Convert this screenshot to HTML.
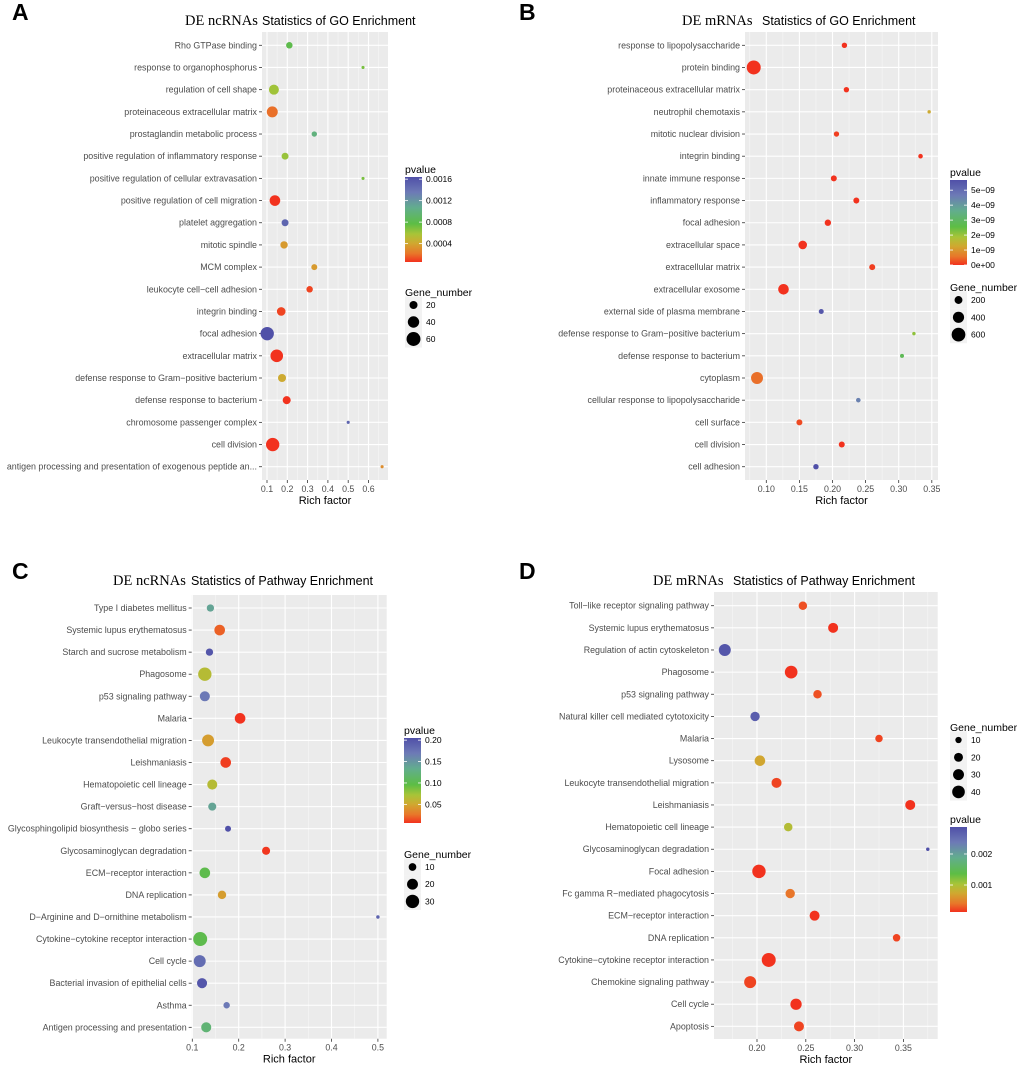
<!DOCTYPE html>
<html><head><meta charset="utf-8"><title>Enrichment bubble charts</title>
<style>
html,body{margin:0;padding:0;background:#fff;}
svg{display:block;}
.lab{font-family:"Liberation Sans",sans-serif;font-size:8.9px;fill:#4d4d4d;}
.tick{font-family:"Liberation Sans",sans-serif;font-size:8.8px;fill:#4d4d4d;}
.axt{font-family:"Liberation Sans",sans-serif;font-size:11px;fill:#000;}
.lgt{font-family:"Liberation Sans",sans-serif;font-size:10.5px;fill:#000;}
.lgl{font-family:"Liberation Sans",sans-serif;font-size:8.5px;fill:#000;}
.ttl{font-family:"Liberation Sans",sans-serif;font-size:12.5px;fill:#000;}
.ttls{font-family:"Liberation Serif",serif;font-size:14.5px;fill:#000;}
.let{font-family:"Liberation Sans",sans-serif;font-size:23px;font-weight:bold;fill:#000;}
</style></head>
<body>
<svg id="fig" width="1020" height="1066" viewBox="0 0 1020 1066" xmlns="http://www.w3.org/2000/svg">
<defs>
<linearGradient id="pgrad" x1="0" y1="1" x2="0" y2="0">
<stop offset="0" stop-color="#f2321e"/>
<stop offset="0.1" stop-color="#e8772a"/>
<stop offset="0.22" stop-color="#d0a830"/>
<stop offset="0.33" stop-color="#a8c438"/>
<stop offset="0.45" stop-color="#5dbd45"/>
<stop offset="0.64" stop-color="#62ad8e"/>
<stop offset="0.82" stop-color="#6d7ab6"/>
<stop offset="1" stop-color="#5050a8"/>
</linearGradient>
</defs>
</svg>
<script>
// ---------- Panel A data ----------
const aTerms=["Rho GTPase binding","response to organophosphorus","regulation of cell shape","proteinaceous extracellular matrix","prostaglandin metabolic process","positive regulation of inflammatory response","positive regulation of cellular extravasation","positive regulation of cell migration","platelet aggregation","mitotic spindle","MCM complex","leukocyte cell\u2212cell adhesion","integrin binding","focal adhesion","extracellular matrix","defense response to Gram\u2212positive bacterium","defense response to bacterium","chromosome passenger complex","cell division","antigen processing and presentation of exogenous peptide an..."];
const aRich=[0.21,0.573,0.134,0.126,0.333,0.189,0.573,0.139,0.189,0.184,0.333,0.31,0.17,0.101,0.148,0.174,0.197,0.5,0.128,0.667];
const aGenes=[13,3,31,37,9,15,3,35,15,17,11,13,23,55,49,20,20,3,55,3];
const aPvals=[0.0008,0.0007,0.0006,0.0002,0.001,0.00062,0.0007,0.00005,0.0015,0.00035,0.00035,0.0001,0.0001,0.00163,0.00001,0.00042,0.00003,0.0015,0.00001,0.0003];
const aTicks=[0.1,0.2,0.3,0.4,0.5,0.6];
const aTickLabels=["0.1","0.2","0.3","0.4","0.5","0.6"];
const aColorTicks=[0.0016,0.0012,0.0008,0.0004];
const aColorLabels=["0.0016","0.0012","0.0008","0.0004"];
const aSizeLegend=[20,40,60];
// ---------- Panel B data ----------
const bTerms=["response to lipopolysaccharide","protein binding","proteinaceous extracellular matrix","neutrophil chemotaxis","mitotic nuclear division","integrin binding","innate immune response","inflammatory response","focal adhesion","extracellular space","extracellular matrix","extracellular exosome","external side of plasma membrane","defense response to Gram\u2212positive bacterium","defense response to bacterium","cytoplasm","cellular response to lipopolysaccharide","cell surface","cell division","cell adhesion"];
const bRich=[0.218,0.081,0.221,0.346,0.206,0.333,0.202,0.236,0.193,0.155,0.26,0.126,0.183,0.323,0.305,0.086,0.239,0.15,0.214,0.175];
const bGenes=[93,625,93,37,93,67,115,115,130,236,115,358,80,37,51,460,67,115,115,93];
const bPvals=[0,0,0,1.3e-9,1e-10,0,0,0,0,0,1e-10,0,5.5e-9,2.1e-9,2.8e-9,5e-10,4.5e-9,2e-10,0,5.7e-9];
const bTicks=[0.10,0.15,0.20,0.25,0.30,0.35];
const bTickLabels=["0.10","0.15","0.20","0.25","0.30","0.35"];
const bColorTicks=[5e-9,4e-9,3e-9,2e-9,1e-9,0];
const bColorLabels=["5e\u221209","4e\u221209","3e\u221209","2e\u221209","1e\u221209","0e+00"];
const bSizeLegend=[200,400,600];
// ---------- Panel C data ----------
const cTerms=["Type I diabetes mellitus","Systemic lupus erythematosus","Starch and sucrose metabolism","Phagosome","p53 signaling pathway","Malaria","Leukocyte transendothelial migration","Leishmaniasis","Hematopoietic cell lineage","Graft\u2212versus\u2212host disease","Glycosphingolipid biosynthesis \u2212 globo series","Glycosaminoglycan degradation","ECM\u2212receptor interaction","DNA replication","D\u2212Arginine and D\u2212ornithine metabolism","Cytokine\u2212cytokine receptor interaction","Cell cycle","Bacterial invasion of epithelial cells","Asthma","Antigen processing and presentation"];
const cRich=[0.139,0.159,0.137,0.127,0.127,0.203,0.134,0.172,0.143,0.143,0.177,0.259,0.127,0.164,0.5,0.117,0.116,0.121,0.174,0.13];
const cGenes=[9,19,9,30,17,19,24,19,17,11,6,11,19,12,2,33,24,17,7,17];
const cPvals=[0.14,0.02,0.2,0.065,0.17,0.006,0.045,0.01,0.065,0.14,0.205,0.008,0.1,0.045,0.19,0.1,0.18,0.2,0.17,0.12];
const cTicks=[0.1,0.2,0.3,0.4,0.5];
const cTickLabels=["0.1","0.2","0.3","0.4","0.5"];
const cColorTicks=[0.2,0.15,0.1,0.05];
const cColorLabels=["0.20","0.15","0.10","0.05"];
const cSizeLegend=[10,20,30];
// ---------- Panel D data ----------
const dTerms=["Toll\u2212like receptor signaling pathway","Systemic lupus erythematosus","Regulation of actin cytoskeleton","Phagosome","p53 signaling pathway","Natural killer cell mediated cytotoxicity","Malaria","Lysosome","Leukocyte transendothelial migration","Leishmaniasis","Hematopoietic cell lineage","Glycosaminoglycan degradation","Focal adhesion","Fc gamma R\u2212mediated phagocytosis","ECM\u2212receptor interaction","DNA replication","Cytokine\u2212cytokine receptor interaction","Chemokine signaling pathway","Cell cycle","Apoptosis"];
const dRich=[0.247,0.278,0.167,0.235,0.262,0.198,0.325,0.203,0.22,0.357,0.232,0.375,0.202,0.234,0.259,0.343,0.212,0.193,0.24,0.243];
const dGenes=[18,25,36,40,18,22,14,28,25,25,18,3,45,22,25,14,49,36,32,25];
const dPvals=[0.00025,0.00005,0.0028,0.00005,0.00025,0.0027,0.0002,0.00072,0.0002,0.00005,0.00095,0.0029,0.00003,0.0004,0.0001,0.0002,0.00003,0.0002,0.00005,0.0002];
const dTicks=[0.20,0.25,0.30,0.35];
const dTickLabels=["0.20","0.25","0.30","0.35"];
const dColorTicks=[0.002,0.001];
const dColorLabels=["0.002","0.001"];
const dSizeLegend=[10,20,30,40];

const NS="http://www.w3.org/2000/svg";
const svg=document.getElementById('fig');
const stops=[[0,[242,50,30]],[0.1,[232,119,42]],[0.22,[208,168,48]],[0.33,[168,196,56]],[0.45,[93,189,69]],[0.64,[98,173,142]],[0.82,[109,122,182]],[1,[80,80,168]]];
function colorAt(t){t=Math.max(0,Math.min(1,t));for(let i=1;i<stops.length;i++){if(t<=stops[i][0]){const a=stops[i-1],b=stops[i];const f=(t-a[0])/(b[0]-a[0]);const c=a[1].map((v,k)=>Math.round(v+(b[1][k]-v)*f));return 'rgb('+c.join(',')+')';}}return 'rgb(80,80,168)';}
function mk(tag,attrs,parent){const e=document.createElementNS(NS,tag);for(const k in attrs)e.setAttribute(k,attrs[k]);(parent||svg).appendChild(e);return e;}

function panel(P,terms,rich,genes,pvals,ticks,tickLabels,cTicksArr,cLabels,sizeLeg){
  const g=mk('g',{});
  
  
  const xs=v=>P.x0+(v-P.v0)*P.k;
  const ys=i=>P.ry0+i*P.dy;
  const rs=n=>P.c*Math.sqrt(n);
  const cs=p=>colorAt((p-P.pmin)/(P.pmax-P.pmin));
  const cy=p=>P.cb1-(p-P.pmin)/(P.pmax-P.pmin)*(P.cb1-P.cb0);
  const L=mk('text',{x:P.letX,y:P.letY,class:'let'},g);L.textContent=P.letter;
  
  const t1=mk('text',{x:P.t1x,y:P.ty,class:'ttls'},g);t1.textContent=P.t1;
  
  const t2=mk('text',{x:P.t2x,y:P.ty,class:'ttl'},g);t2.textContent=P.t2;
  
  const bg=mk('rect',{x:P.px0,y:P.py0,width:P.px1-P.px0,height:P.py1-P.py0,fill:'#ebebeb'},g);
  
  for(let i=0;i<ticks.length+1;i++){
    const step=ticks[1]-ticks[0];const v=ticks[0]-step/2+i*step;const x=xs(v);
    if(x>P.px0&&x<P.px1){const m=mk('line',{x1:x,x2:x,y1:P.py0,y2:P.py1,stroke:'#f7f7f7','stroke-width':0.6},g);
    }
  }
  ticks.forEach((v,i)=>{const x=xs(v);
    const l=mk('line',{x1:x,x2:x,y1:P.py0,y2:P.py1,stroke:'#fff','stroke-width':1.1},g);
    
    const tk=mk('line',{x1:x,x2:x,y1:P.py1,y2:P.py1+3,stroke:'#333','stroke-width':0.8},g);
    
    const tl=mk('text',{x:x,y:P.py1+12,class:'tick','text-anchor':'middle'},g);tl.textContent=tickLabels[i];
    
  });
  terms.forEach((t,i)=>{const y=ys(i);
    const l=mk('line',{x1:P.px0,x2:P.px1,y1:y,y2:y,stroke:'#fff','stroke-width':1.1},g);
    
    const tk=mk('line',{x1:P.px0-3,x2:P.px0,y1:y,y2:y,stroke:'#333','stroke-width':0.8},g);
    
    const tl=mk('text',{x:P.px0-5,y:y+3,class:'lab','text-anchor':'end'},g);tl.textContent=t;
    
  });
  terms.forEach((t,i)=>{
    const c=mk('circle',{cx:xs(rich[i]),cy:ys(i),r:rs(genes[i]),fill:cs(pvals[i])},g);
    
  });
  const ax=mk('text',{x:(P.px0+P.px1)/2,y:P.py1+24,class:'axt','text-anchor':'middle'},g);ax.textContent='Rich factor';
  
  const ct=mk('text',{x:P.cbx,y:P.cb0-4,class:'lgt'},g);ct.textContent='pvalue';
  
  const cb=mk('rect',{x:P.cbx,y:P.cb0,width:17,height:P.cb1-P.cb0,fill:'url(#pgrad)'},g);
  
  cTicksArr.forEach((v,i)=>{const y=cy(v);
    const a=mk('line',{x1:P.cbx,x2:P.cbx+3,y1:y,y2:y,stroke:'#fff','stroke-width':0.8},g);
    
    const b=mk('line',{x1:P.cbx+14,x2:P.cbx+17,y1:y,y2:y,stroke:'#fff','stroke-width':0.8},g);
    
    const tl=mk('text',{x:P.cbx+21,y:y+3,class:'lgl'},g);tl.textContent=cLabels[i];
    
  });
  const st=mk('text',{x:P.cbx,y:P.sy0-9,class:'lgt'},g);st.textContent='Gene_number';
  
  sizeLeg.forEach((n,i)=>{const y=P.sy0+i*P.sdy;
    const box=mk('rect',{x:P.cbx,y:y-P.sdy/2,width:17,height:P.sdy,fill:'#f2f2f2'},g);
    
    const c=mk('circle',{cx:P.cbx+8.5,cy:y,r:rs(n),fill:'#000'},g);
    
    const tl=mk('text',{x:P.cbx+21,y:y+3,class:'lgl'},g);tl.textContent=n;
    
  });
}

panel({name:'panel-a-go-ncrna',letter:'A',letX:12,letY:20,t1:'DE ncRNAs',t2:'Statistics of GO Enrichment',t1x:185,t2x:262,ty:25,
 px0:262,px1:388,py0:32,py1:480,x0:267,v0:0.1,k:203,ry0:45.3,dy:22.18,c:0.9,pmin:0.000058,pmax:0.00164,
 cbx:405,cb0:177,cb1:262,sy0:305,sdy:17},aTerms,aRich,aGenes,aPvals,aTicks,aTickLabels,aColorTicks,aColorLabels,aSizeLegend);
panel({name:'panel-b-go-mrna',letter:'B',letX:519,letY:20,t1:'DE mRNAs',t2:'Statistics of GO Enrichment',t1x:682,t2x:762,ty:25,
 px0:745,px1:938,py0:32,py1:480,x0:766.3,v0:0.1,k:662,ry0:45.3,dy:22.18,c:0.28,pmin:0,pmax:5.68e-9,
 cbx:950,cb0:180,cb1:265,sy0:300,sdy:17.3},bTerms,bRich,bGenes,bPvals,bTicks,bTickLabels,bColorTicks,bColorLabels,bSizeLegend);
panel({name:'panel-c-pathway-ncrna',letter:'C',letX:12,letY:579,t1:'DE ncRNAs',t2:'Statistics of Pathway Enrichment',t1x:113,t2x:191,ty:585,
 px0:191.7,px1:386.7,py0:595,py1:1038.7,x0:192.3,v0:0.1,k:464,ry0:608,dy:22.07,c:1.22,pmin:0.0065,pmax:0.205,
 cbx:404,cb0:738,cb1:823,sy0:867,sdy:17.2},cTerms,cRich,cGenes,cPvals,cTicks,cTickLabels,cColorTicks,cColorLabels,cSizeLegend);
panel({name:'panel-d-pathway-mrna',letter:'D',letX:519,letY:579,t1:'DE mRNAs',t2:'Statistics of Pathway Enrichment',t1x:653,t2x:733,ty:585,
 px0:714,px1:937.7,py0:592,py1:1039,x0:757,v0:0.2,k:976,ry0:605.7,dy:22.14,c:1.0,pmin:0.00013,pmax:0.00287,
 cbx:950,cb0:827,cb1:912,sy0:740,sdy:17.3},dTerms,dRich,dGenes,dPvals,dTicks,dTickLabels,dColorTicks,dColorLabels,dSizeLegend);
</script>
</body></html>
